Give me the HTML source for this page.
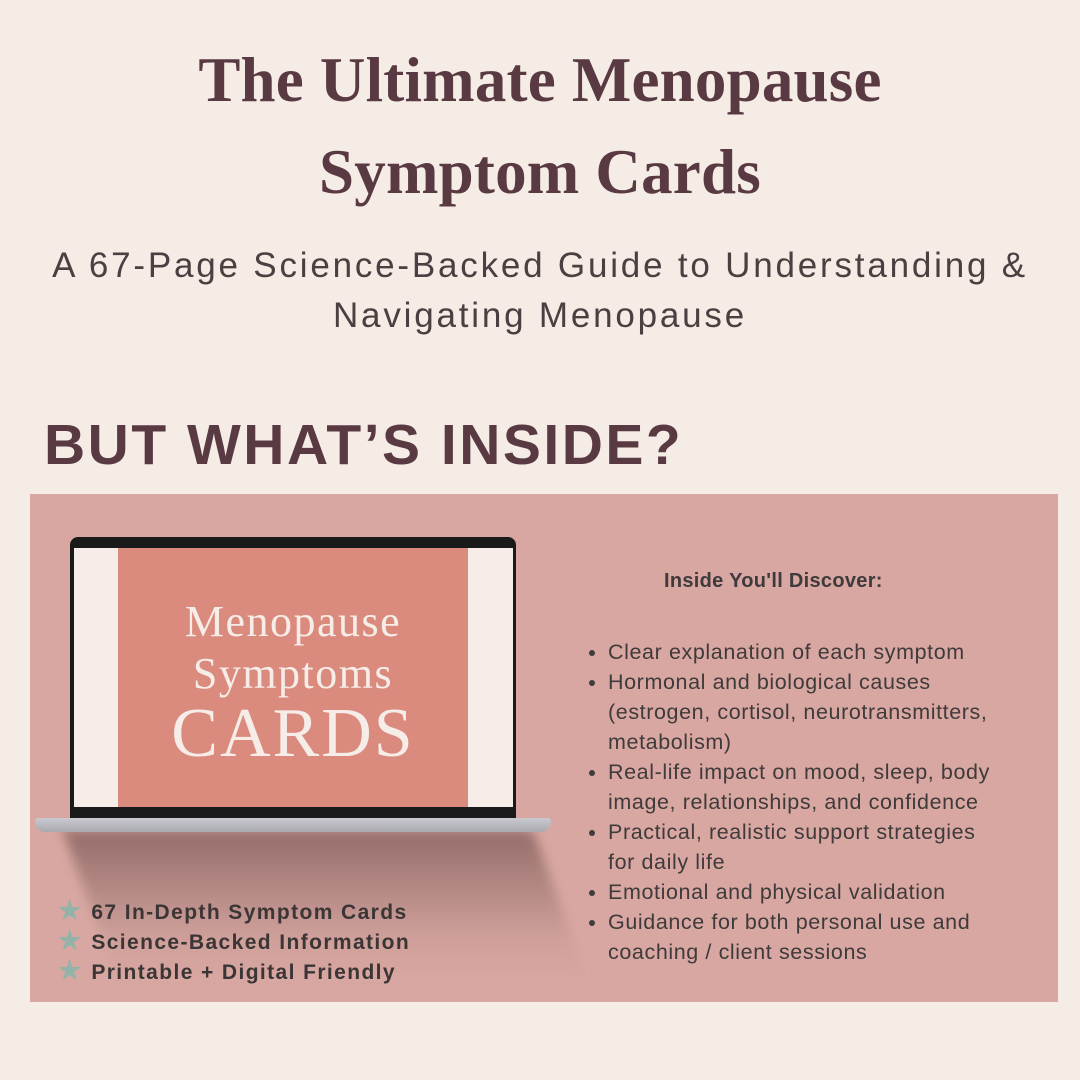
<!DOCTYPE html>
<html><head><meta charset="utf-8"><style>
body{margin:0;width:1080px;height:1080px;background:#f5ece6;position:relative;overflow:hidden;font-family:"Liberation Sans",sans-serif}
.a{position:absolute}
.t{left:0;width:1080px;text-align:center;color:#5a3a42;font-family:"Liberation Serif",serif;font-weight:bold;font-size:63px;letter-spacing:0.2px}
.s{left:0;width:1080px;text-align:center;color:#4a4042;font-size:35px;line-height:50px;letter-spacing:2.8px}
ul{margin:0;padding:0 0 0 22px;list-style:disc}
li{font-size:21.5px;line-height:30px;color:#3f3a3b;letter-spacing:0.6px}
.st{font-weight:bold;font-size:21px;color:#3b3536;line-height:30px;letter-spacing:1.4px;height:30px}
.st span{color:#93b3a8;font-size:26px;margin-right:10px;letter-spacing:0}
</style></head><body>
<div class="a t" style="top:44px">The Ultimate Menopause</div>
<div class="a t" style="top:136px">Symptom Cards</div>
<div class="a s" style="top:241px">A 67-Page Science-Backed Guide to Understanding &amp;</div>
<div class="a s" style="top:291px">Navigating Menopause</div>
<div class="a" style="left:44px;top:412px;font-size:57px;font-weight:bold;color:#5a3a42;letter-spacing:2.5px">BUT WHAT’S INSIDE?</div>
<div class="a" style="left:30px;top:494px;width:1028px;height:508px;background:#d8a7a1"></div>
<div class="a" style="left:90px;top:830px;width:470px;height:150px;background:linear-gradient(180deg,rgba(90,60,60,.55),rgba(150,110,110,.15) 70%,rgba(0,0,0,0));filter:blur(6px);transform:skewX(20deg)"></div>
<div class="a" style="left:70px;top:537px;width:446px;height:282px;background:#1a1a1a;border-radius:8px 8px 0 0"></div>
<div class="a" style="left:74px;top:548px;width:439px;height:259px;background:#f6ede8"></div>
<div class="a" style="left:118px;top:548px;width:350px;height:259px;background:#da8b7d"></div>
<div class="a" style="left:118px;top:596px;width:350px;text-align:center;color:#f6ede8;font-family:'Liberation Serif',serif;font-size:44px;line-height:52px;letter-spacing:1.5px">Menopause<br>Symptoms<br><span style="font-size:70px;line-height:68px;letter-spacing:2px">CARDS</span></div>
<div class="a" style="left:35px;top:818px;width:516px;height:14px;background:linear-gradient(#c9c9cf,#a9a9b0);border-radius:3px 3px 10px 10px"></div>
<div class="a" style="left:58px;top:895px">
<div class="st"><span>★</span>67 In-Depth Symptom Cards</div>
<div class="st"><span>★</span>Science-Backed Information</div>
<div class="st"><span>★</span>Printable + Digital Friendly</div>
</div>
<div class="a" style="left:664px;top:570px;font-size:20px;font-weight:bold;color:#3f3a3b;letter-spacing:0.3px">Inside You'll Discover:</div>
<div class="a" style="left:586px;top:637px;width:418px">
<ul>
<li>Clear explanation of each symptom</li>
<li>Hormonal and biological causes (estrogen, cortisol, neurotransmitters, metabolism)</li>
<li>Real-life impact on mood, sleep, body image, relationships, and confidence</li>
<li>Practical, realistic support strategies for daily life</li>
<li>Emotional and physical validation</li>
<li>Guidance for both personal use and coaching / client sessions</li>
</ul></div>
</body></html>
